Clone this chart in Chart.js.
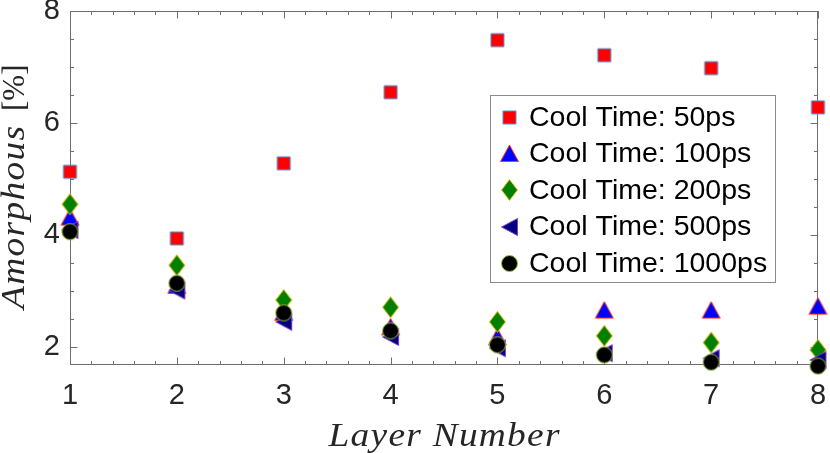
<!DOCTYPE html>
<html><head><meta charset="utf-8">
<script src="https://cdn.jsdelivr.net/npm/chart.js@4.4.0/dist/chart.umd.min.js"></script>
<style>html,body{margin:0;padding:0;background:#fff;}</style>
</head><body>
<canvas id="c" width="830" height="453"></canvas>
<script>
// ---- data ----
const layers = [1, 2, 3, 4, 5, 6, 7, 8];
const cool50 = [5.13, 3.94, 5.28, 6.55, 7.48, 7.21, 6.98, 6.28];
const cool100 = [4.32, 3.10, 2.62, 2.36, 2.18, 2.66, 2.66, 2.73];
const cool200 = [4.55, 3.46, 2.84, 2.71, 2.45, 2.20, 2.08, 1.95];
const cool500 = [4.09, 3.01, 2.45, 2.18, 1.98, 1.89, 1.80, 1.77];
const cool1000 = [4.06, 3.14, 2.61, 2.29, 2.04, 1.86, 1.73, 1.66];
const seriesLabels = ['Cool Time: 50ps', 'Cool Time: 100ps', 'Cool Time: 200ps', 'Cool Time: 500ps', 'Cool Time: 1000ps'];
const xTickValues = [1, 2, 3, 4, 5, 6, 7, 8];
const yTickValues = [2, 4, 6, 8];
const xTitle = 'Layer Number';
const yTitleItalic = 'Amorphous';
const yTitleUnit = '[%]';

// ---- markers ----
function makeMarker(kind, fill, edge) {
  const c = document.createElement('canvas');
  let w, h;
  if (kind === 'square') { w = 17; h = 17; }
  else if (kind === 'up') { w = 21; h = 19; }
  else if (kind === 'diamond') { w = 19; h = 24; }
  else if (kind === 'left') { w = 19; h = 20; }
  else { w = 19; h = 19; }
  c.width = w; c.height = h;
  const g = c.getContext('2d');
  g.fillStyle = fill; g.strokeStyle = edge; g.lineWidth = 1;
  g.beginPath();
  const cx = w / 2, cy = h / 2;
  if (kind === 'square') {
    g.rect(cx - 6.5, cy - 6.5, 13, 13);
  } else if (kind === 'up') {
    g.moveTo(cx, cy - 8.5); g.lineTo(cx + 9, cy + 8); g.lineTo(cx - 9, cy + 8); g.closePath();
  } else if (kind === 'diamond') {
    g.moveTo(cx, cy - 10.5); g.lineTo(cx + 8, cy); g.lineTo(cx, cy + 10.5); g.lineTo(cx - 8, cy); g.closePath();
  } else if (kind === 'left') {
    g.moveTo(cx - 8, cy); g.lineTo(cx + 8, cy - 8.5); g.lineTo(cx + 8, cy + 8.5); g.closePath();
  } else {
    g.arc(cx, cy, 8, 0, Math.PI * 2);
  }
  g.fill(); g.stroke();
  return c;
}
const markers = [
  makeMarker('square', '#ff0000', '#4f8fd6'),
  makeMarker('up', '#0000ff', '#ff3a10'),
  makeMarker('diamond', '#008000', '#f0c010'),
  makeMarker('left', '#000080', '#8a3cc8'),
  makeMarker('circle', '#000000', '#9cc040')
];
const seriesValues = [cool50, cool100, cool200, cool500, cool1000];

const datasets = seriesValues.map((vals, i) => ({
  label: seriesLabels[i],
  data: layers.map((x, j) => ({ x: x, y: vals[j] })),
  pointStyle: markers[i],
  pointRadius: 8,
  showLine: false,
  clip: false,
  order: 5 - i
}));

const tickFont = { family: 'Liberation Sans', size: 29 };
const AXIS = '#6e6e6e';

const decorPlugin = {
  id: 'decor',
  beforeDatasetsDraw(chart) {
    const { ctx, chartArea: a, scales } = chart;
    const xs = scales.x, ys = scales.y;
    ctx.save();
    ctx.strokeStyle = AXIS; ctx.lineWidth = 1;
    ctx.strokeRect(a.left + 0.5, a.top + 0.5, a.right - a.left - 1, a.bottom - a.top - 1);
    ctx.beginPath();
    for (let k = 0; k <= 35; k++) {
      const v = 1 + k * 0.2;
      const px = Math.round(xs.getPixelForValue(v)) + 0.5;
      const len = (k % 5 === 0) ? 7.5 : 4;
      ctx.moveTo(px, a.bottom); ctx.lineTo(px, a.bottom - len);
      ctx.moveTo(px, a.top); ctx.lineTo(px, a.top + len);
    }
    for (let k = 0; k <= 12; k++) {
      const v = 2 + k * 0.5;
      const py = Math.round(ys.getPixelForValue(v)) + 0.5;
      const len = (k % 4 === 0) ? 7.5 : 4;
      ctx.moveTo(a.left, py); ctx.lineTo(a.left + len, py);
      ctx.moveTo(a.right, py); ctx.lineTo(a.right - len, py);
    }
    ctx.stroke();
    ctx.restore();
  },
  afterDraw(chart) {
    const { ctx, chartArea: a } = chart;
    ctx.save();
    // legend box
    const bx = 490, by = 95, bw = 285, bh = 187;
    ctx.fillStyle = '#ffffff';
    ctx.fillRect(bx, by, bw, bh);
    ctx.strokeStyle = '#8a8a8a'; ctx.lineWidth = 1;
    ctx.strokeRect(bx + 0.5, by + 0.5, bw, bh);
    ctx.font = '28.5px "Liberation Sans"';
    ctx.fillStyle = '#000000';
    ctx.textBaseline = 'middle';
    ctx.textAlign = 'left';
    chart.data.datasets.forEach((ds, i) => {
      const cy = 117 + i * 36.5;
      const m = ds.pointStyle;
      ctx.drawImage(m, Math.round(509 - m.width / 2), Math.round(cy - m.height / 2));
      ctx.fillText(ds.label, 529, cy + 1);
    });
    // stretched text helper: horizontal scale + small letter spacing to reach target width
    function drawFit(text, x, y, target, sx) {
      ctx.save();
      ctx.translate(x, y);
      ctx.scale(sx, 1);
      const n = text.length;
      const w0 = ctx.measureText(text).width;
      const ls = (target / sx - w0) / (n - 1);
      let cx = 0;
      for (const ch of text) {
        ctx.fillText(ch, cx, 0);
        cx += ctx.measureText(ch).width + ls;
      }
      ctx.restore();
    }
    ctx.fillStyle = '#262626';
    ctx.textBaseline = 'alphabetic';
    ctx.font = 'italic 34px "Liberation Serif"';
    const xTarget = 231;
    drawFit(xTitle, (a.left + a.right) / 2 - xTarget / 2, 446, xTarget, 1.1);
    ctx.translate(24, (a.top + a.bottom) / 2);
    ctx.rotate(-Math.PI / 2);
    ctx.font = 'italic 34px "Liberation Serif"';
    const yTarget = 183;
    drawFit(yTitleItalic, -121, 0, yTarget, 1.1);
    ctx.font = '31px "Liberation Serif"';
    ctx.fillText(yTitleUnit, -121 + yTarget + 15, 0);
    ctx.restore();
  }
};

new Chart(document.getElementById('c'), {
  type: 'scatter',
  data: { datasets: datasets },
  options: {
    responsive: false,
    animation: false,
    events: [],
    layout: { padding: { left: 0, right: 12, top: 11, bottom: 0 } },
    plugins: { legend: { display: false }, tooltip: { enabled: false } },
    scales: {
      x: {
        type: 'linear', min: 1, max: 8,
        afterBuildTicks: s => { s.ticks = xTickValues.map(v => ({ value: v })); },
        afterFit: s => { s.height = 88; s.paddingLeft = 0; s.paddingRight = 0; s.paddingTop = 0; s.paddingBottom = 0; },
        grid: { display: false, drawTicks: false },
        border: { display: false },
        ticks: { font: tickFont, color: '#262626', padding: 14, maxRotation: 0, autoSkip: false, callback: v => String(v) }
      },
      y: {
        type: 'linear', min: 1.68, max: 8,
        afterBuildTicks: s => { s.ticks = yTickValues.map(v => ({ value: v })); },
        afterFit: s => { s.width = 70; s.paddingLeft = 0; s.paddingRight = 0; s.paddingTop = 0; s.paddingBottom = 0; },
        grid: { display: false, drawTicks: false },
        border: { display: false },
        ticks: { font: tickFont, color: '#262626', padding: 10, autoSkip: false, callback: v => String(v) }
      }
    }
  },
  plugins: [decorPlugin]
});
</script>
</body></html>
